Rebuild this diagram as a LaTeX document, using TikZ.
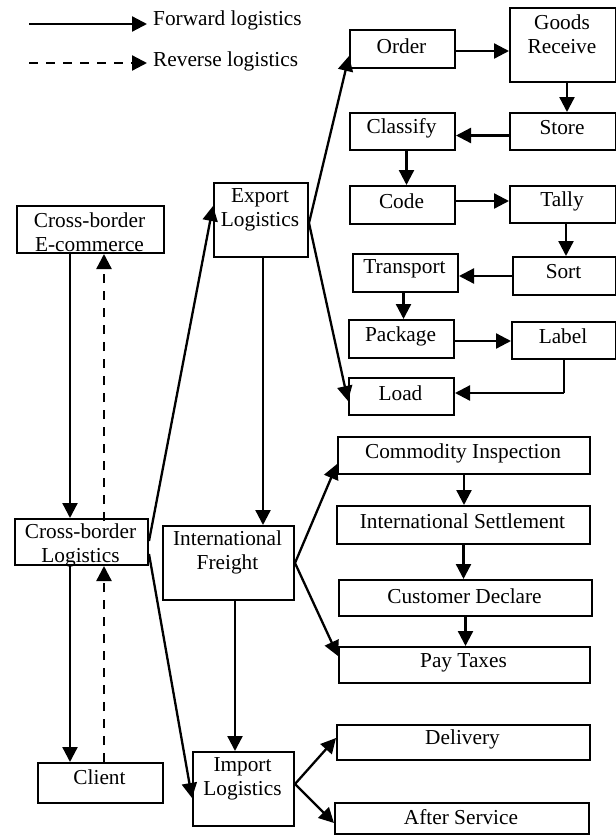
\documentclass[tikz,border=0pt]{standalone}
\usepackage{fontspec}
\setmainfont{Liberation Serif}
\usetikzlibrary{arrows.meta}
\tikzset{
  box/.style={draw, line width=2pt, inner sep=0pt, anchor=north west},
  txt/.style={inner sep=0pt, align=center, font=\fontsize{21.3pt}{24pt}\selectfont},
  fw/.style={line width=2.3pt, -{Triangle[length=15pt,width=15pt]}},
  rv/.style={line width=2.3pt, dash pattern=on 9pt off 8pt, -{Triangle[length=15pt,width=15pt]}},
}
\begin{document}
\begin{tikzpicture}[x=1pt,y=-1pt]
\useasboundingbox (0,0) rectangle (616,836);
% legend
\coordinate (fa) at (29,24);
\coordinate (fb) at (147,24);
\coordinate (ra) at (29,63);
\coordinate (rb) at (147,63);
\draw[fw] (fa) -- (fb);
\draw[rv] (ra) -- (rb);
\node[txt, anchor=west] (legf) at (153,20) {Forward logistics};
\node[txt, anchor=west] (legr) at (153,61) {Reverse logistics};
% left column
\node[box, minimum width=147pt, minimum height=47pt] (ec) at (16,205) {};
\node[txt] (ect) at (89.5,232) {Cross-border\\E-commerce};
\node[box, minimum width=133pt, minimum height=46pt] (cbl) at (14,518) {};
\node[txt] (cblt) at (80.5,545) {Cross-border\\Logistics};
\node[box, minimum width=125pt, minimum height=40pt] (cl) at (37,762) {};
\node[txt] (clt) at (99.5,777) {Client};
% middle column
\node[box, minimum width=94pt, minimum height=74pt] (exp) at (213,182) {};
\node[txt] (expt) at (260,210) {Export\\Logistics};
\node[box, minimum width=131pt, minimum height=74pt] (frt) at (162,525) {};
\node[txt] (frtt) at (227.5,552) {International\\Freight};
\node[box, minimum width=101pt, minimum height=74pt] (imp) at (192,751) {};
\node[txt] (impt) at (242.5,779) {Import\\Logistics};
% export chain
\node[box, minimum width=105pt, minimum height=38pt] (ord) at (349,29) {};
\node[txt] (ordt) at (401.5,46) {Order};
\node[box, minimum width=106pt, minimum height=74pt] (gr) at (509,7) {};
\node[txt] (grt) at (562,34) {Goods\\Receive};
\node[box, minimum width=105pt, minimum height=37pt] (cla) at (349,112) {};
\node[txt] (clat) at (401.5,128) {Classify};
\node[box, minimum width=106pt, minimum height=37pt] (sto) at (509,112) {};
\node[txt] (stot) at (562,128) {Store};
\node[box, minimum width=105pt, minimum height=38pt] (cod) at (349,185) {};
\node[txt] (codt) at (401.5,201) {Code};
\node[box, minimum width=106pt, minimum height=37pt] (tal) at (509,185) {};
\node[txt] (talt) at (562,201) {Tally};
\node[box, minimum width=105pt, minimum height=38pt] (tra) at (352,253) {};
\node[txt] (trat) at (404.5,269) {Transport};
\node[box, minimum width=103pt, minimum height=38pt] (sor) at (512,256) {};
\node[txt] (sort) at (563.5,272) {Sort};
\node[box, minimum width=105pt, minimum height=38pt] (pac) at (348,319) {};
\node[txt] (pact) at (400.5,336) {Package};
\node[box, minimum width=104pt, minimum height=37pt] (lab) at (511,321) {};
\node[txt] (labt) at (563,336) {Label};
\node[box, minimum width=105pt, minimum height=37pt] (loa) at (348,377) {};
\node[txt] (loat) at (400.5,393) {Load};
% freight chain
\node[box, minimum width=252pt, minimum height=37pt] (ci) at (337,436) {};
\node[txt] (cit) at (463,453) {Commodity Inspection};
\node[box, minimum width=253pt, minimum height=38pt] (ise) at (336,505) {};
\node[txt] (iset) at (462.5,521) {International Settlement};
\node[box, minimum width=253pt, minimum height=36pt] (cd) at (338,579) {};
\node[txt] (cdt) at (464.5,596) {Customer Declare};
\node[box, minimum width=251pt, minimum height=36pt] (pt) at (338,646) {};
\node[txt] (ptt) at (463.5,663) {Pay Taxes};
% import chain
\node[box, minimum width=253pt, minimum height=35pt] (del) at (336,724) {};
\node[txt] (delt) at (462.5,739) {Delivery};
\node[box, minimum width=254pt, minimum height=31pt] (as) at (334,802) {};
\node[txt] (ast) at (461,817) {After Service};
% left connectors
\draw[fw] ([xshift=54pt]ec.south west) -- ([xshift=56pt]cbl.north west);
\draw[rv] ([xshift=90pt,yshift=-3pt]cbl.north west) -- ([xshift=88pt]ec.south west);
\draw[fw] ([xshift=56pt]cbl.south west) -- ([xshift=33pt]cl.north west);
\draw[rv] ([xshift=67pt]cl.north west) -- ([xshift=90pt]cbl.south west);
\draw[fw] ([yshift=1pt]cbl.east) -- ([yshift=14pt]exp.west);
\draw[fw] ([yshift=-12pt]cbl.east) -- ([yshift=-9pt]imp.west);
% middle connectors
\draw[fw] ([xshift=50pt]exp.south west) -- ([xshift=101pt]frt.north west);
\draw[fw] ([xshift=73pt]frt.south west) -- ([xshift=43pt]imp.north west);
\draw[fw] ([yshift=-3pt]exp.east) -- ([yshift=-7pt]ord.west);
\draw[fw] ([yshift=-3pt]exp.east) -- ([yshift=-4.5pt]loa.west);
\draw[fw] (frt.east) -- ([yshift=-8.5pt]ci.west);
\draw[fw] (frt.east) -- ([yshift=9pt]pt.west);
\draw[fw] ([yshift=5pt]imp.east) -- ([yshift=4.5pt]del.west);
\draw[fw] ([yshift=5pt]imp.east) -- ([yshift=-4.5pt]as.west);
% export chain connectors
\draw[fw] ([yshift=-2pt]ord.east) -- ([yshift=-2pt]ord.east -| gr.west);
\draw[fw] ([xshift=4pt]gr.south) -- ([xshift=4pt]gr.south |- sto.north);
\draw[fw] ([yshift=-4pt]sto.west) -- ([yshift=-4pt]sto.west -| cla.east);
\draw[fw] ([xshift=4pt]cla.south) -- ([xshift=4pt]cla.south |- cod.north);
\draw[fw] ([yshift=4pt]cod.east) -- ([yshift=4pt]cod.east -| tal.west);
\draw[fw] ([xshift=3pt]tal.south) -- ([xshift=3pt]tal.south |- sor.north);
\draw[fw] (sor.west) -- (sor.west -| tra.east);
\draw[fw] ([xshift=-2pt]tra.south) -- ([xshift=-2pt]tra.south |- pac.north);
\draw[fw] ([yshift=-2pt]pac.east) -- ([yshift=-2pt]pac.east -| lab.west);
\coordinate (lc) at ([yshift=3.5pt]lab.south |- loa.east);
\draw[line width=1.3pt] (lab.south) -- (lc);
\draw[fw] (lc) -- ([yshift=3.5pt]loa.east);
% freight chain connectors
\draw[fw] (ci.south) -- (ci.south |- ise.north);
\draw[fw] (ise.south) -- (ise.south |- cd.north);
\draw[fw] (cd.south) -- (cd.south |- pt.north);
\end{tikzpicture}
\end{document}
